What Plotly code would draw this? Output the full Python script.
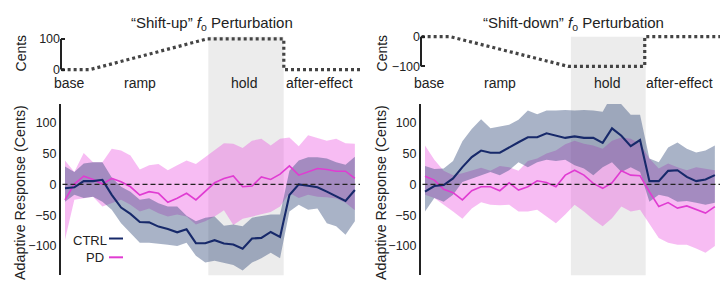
import plotly.graph_objects as go

# ---------------- data ----------------
trials = list(range(1, 33))

# Shift-up condition
ctrl_up_mean = [-6.4, -4.8, 5.3, 5.3, 7.4, -17, -37.6, -48, -61, -61.7, -68.6, -72.4, -77.8, -73, -95.5, -95.5,
                -90.6, -96, -97.6, -104.5, -88, -86.9, -77.3, -85.3, -17.2, 0, -2.1, -4.8, -11.8, -19.9, -26.8, -9.2]
ctrl_up_upper = [29, 20, 34, 36, 36, 11, -4, -12, -25, -22.5, -30.5, -36, -36, -51, -60, -54,
                 -52, -67, -65, -68, -54, -52, -49, -49, 22, 39, 44, 44, 42, 36, 32, 45]
ctrl_up_lower = [-28, -17, -22, -20, -28, -41, -63, -79, -95, -95, -96, -98, -100, -95, -116, -127,
                 -124, -127, -131, -140, -127, -120, -111, -120, -44, -33, -41, -39, -63, -68, -82, -60]
pd_up_mean = [-25.2, 0.5, 13.3, 8, 0.5, 9.6, 4.2, -3.9, -17.2, -11.8, -14.5, -29, -22.5, -14.5, -25.2, -11.8,
              2.6, 9.6, 13.8, -3.9, -2.7, 12.2, 8, 16.6, 30, 15, 20.3, 25.7, 24.1, 21.4, 21.4, 9.6]
pd_up_upper = [39, 20, 51, 36, 36, 58, 55, 47, 24, 31, 33, 23, 31, 39, 33, 44,
               55, 67, 66, 59, 71, 74, 63, 74, 76, 62, 80, 75, 71, 74, 67, 66]
pd_up_lower = [-90, -25, -22, -20, -36, -30, -25, -33, -44, -39, -47, -52, -49, -52, -65, -60,
               -52, -42, -66, -56, -52, -49, -45, -36, -14, -22, -17, -20, -21, -23, -30, -42]

# Shift-down condition
ctrl_down_mean = [-11.8, -2.7, -1, 9.6, 28, 44.4, 55, 51.4, 51.4, 60.5, 68.5, 76.5, 76.5, 83, 79, 75.5,
                  78, 75.5, 75.5, 67.5, 91, 79, 62, 72, 5.3, 5.3, 22, 23, 12.2, 5.3, 8, 15]
ctrl_down_upper = [30, 25, 26, 38, 70, 90, 106, 91, 94, 97, 105, 120, 114, 120, 120, 121,
                   120, 121, 120, 118, 145, 130, 113, 113, 42, 36, 60, 68, 58, 52, 55, 63]
ctrl_down_lower = [-44, -22, -28, -17, 4, 10, 15, 20, 15, 23, 36, 28, 36, 40, 38, 40,
                   31, 26, 15, 28, 36, 20, 28, 20, -28, -17, -20, -28, -27, -30, -33, -30]
pd_down_mean = [13.3, 7, -8, -13.5, -25.2, -10.3, -3.9, -3.9, -10.3, 2.6, -9.2, -3.9, 5.8, 3.2, -3.9, 15,
                23, 15, 1.6, -6.4, 2.6, 22, 15, 14, -12, -36, -29.6, -38.6, -35, -41.3, -46.6, -36]
pd_down_upper = [63, 40, 22, 15, 18, 22, 27, 22, 30, 28, 22, 38, 42, 50, 55, 65,
                 71, 66, 63, 58, 71, 76, 74, 66, 42, 26, 34, 28, 23, 28, 26, 23]
pd_down_lower = [-17, -22, -33, -44, -56, -39, -29, -33, -34, -33, -44, -44, -41, -52, -63, -49,
                 -33, -44, -57, -68, -55, -36, -44, -41, -63, -87, -95, -98, -98, -104, -111, -100]

# Perturbation profiles (cents)
pert_up_x = [0.64, 3.67, 16.2, 24.4, 24.4, 32.55]
pert_up_y = [0, 0, 100, 100, 0, 0]
pert_down_x = [0.64, 3.67, 16.3, 24.5, 24.5, 32.6]
pert_down_y = [0, 0, -100, -100, 0, 0]

phase_labels = ["base", "ramp", "hold", "after-effect"]
bottom_ticks = [-100, -50, 0, 50, 100]
up_ticks = [0, 100]
down_ticks = [-100, 0]

# ---------------- styling ----------------
W, H = 721, 288
FONT = "Liberation Sans, Arial, sans-serif"
CTRL_LINE = "#17296a"
PD_LINE = "#e03cd2"
CTRL_FILL = "rgba(40,65,115,0.40)"
PD_FILL = "rgba(232,70,222,0.36)"
PERT_COLOR = "#444444"
HOLD_COLOR = "#ececec"


def px(x):
    return x / W


def py(y):
    return 1 - y / H


XR = [0.572, 32.55]
label_x = [1.53, 9.02, 20.1, 28.27]
label_x_r = [1.53, 9.02, 20.45, 28.27]

fig = go.Figure()


def add_panel(xa, ya, mean_c, up_c, lo_c, mean_p, up_p, lo_p):
    fig.add_trace(go.Scatter(x=trials + trials[::-1], y=up_p + lo_p[::-1], fill="toself",
                             fillcolor=PD_FILL, line=dict(width=0), mode="lines",
                             hoverinfo="skip", showlegend=False, xaxis=xa, yaxis=ya))
    fig.add_trace(go.Scatter(x=trials + trials[::-1], y=up_c + lo_c[::-1], fill="toself",
                             fillcolor=CTRL_FILL, line=dict(width=0), mode="lines",
                             hoverinfo="skip", showlegend=False, xaxis=xa, yaxis=ya))
    fig.add_trace(go.Scatter(x=trials, y=mean_p, mode="lines", line=dict(color=PD_LINE, width=1.6),
                             name="PD", showlegend=False, xaxis=xa, yaxis=ya))
    fig.add_trace(go.Scatter(x=trials, y=mean_c, mode="lines", line=dict(color=CTRL_LINE, width=2.1),
                             name="CTRL", showlegend=False, xaxis=xa, yaxis=ya))


add_panel("x", "y", ctrl_up_mean, ctrl_up_upper, ctrl_up_lower, pd_up_mean, pd_up_upper, pd_up_lower)
add_panel("x3", "y3", ctrl_down_mean, ctrl_down_upper, ctrl_down_lower, pd_down_mean, pd_down_upper, pd_down_lower)

fig.add_trace(go.Scatter(x=pert_up_x, y=pert_up_y, mode="lines",
                         line=dict(color=PERT_COLOR, width=3.2, dash="3px,3px"),
                         showlegend=False, xaxis="x2", yaxis="y2"))
fig.add_trace(go.Scatter(x=pert_down_x, y=pert_down_y, mode="lines",
                         line=dict(color=PERT_COLOR, width=3.2, dash="3px,3px"),
                         showlegend=False, xaxis="x4", yaxis="y4"))

bot_dom = [py(276), py(103)]
top_dom = [py(75), py(30)]
left_dom = [px(61), px(360)]
right_dom = [px(421), px(720)]

xcommon = dict(visible=False, range=XR, fixedrange=True)
ybot = dict(domain=bot_dom, range=[-147.4, 130.7], tickvals=bottom_ticks, ticks="",
            showline=True, linewidth=2, linecolor="#222", showgrid=False, zeroline=False,
            tickfont=dict(family=FONT, size=12.5, color="#222"))
ytop = dict(domain=top_dom, ticks="inside", ticklen=4, tickwidth=1.5, tickcolor="#222",
            showline=False, showgrid=False, zeroline=False,
            tickfont=dict(family=FONT, size=12.5, color="#222"))

fig.update_layout(
    width=W, height=H, margin=dict(l=0, r=0, t=0, b=0),
    paper_bgcolor="white", plot_bgcolor="rgba(0,0,0,0)",
    showlegend=False,
    xaxis=dict(domain=left_dom, anchor="y", **xcommon),
    xaxis2=dict(domain=left_dom, anchor="y2", **xcommon),
    xaxis3=dict(domain=right_dom, anchor="y3", **xcommon),
    xaxis4=dict(domain=right_dom, anchor="y4", **xcommon),
    yaxis=dict(anchor="x", **ybot),
    yaxis3=dict(anchor="x3", **ybot),
    yaxis2=dict(anchor="x2", range=[-21.6, 123.5], tickvals=up_ticks, **ytop),
    yaxis4=dict(anchor="x4", range=[-133.3, 16.7], tickvals=down_ticks, **ytop),
)

shapes = []
# hold shading
shapes.append(dict(type="rect", xref="x", yref="paper", x0=16.33, x1=24.39, y0=py(276), y1=py(35),
                   fillcolor=HOLD_COLOR, line=dict(width=0), layer="below"))
shapes.append(dict(type="rect", xref="x3", yref="paper", x0=16.6, x1=24.6, y0=py(276), y1=py(35),
                   fillcolor=HOLD_COLOR, line=dict(width=0), layer="below"))
# zero dashed lines
for xr, yr in (("x domain", "y"), ("x3 domain", "y3")):
    shapes.append(dict(type="line", xref=xr, yref=yr, x0=0.005, x1=1, y0=0, y1=0,
                       line=dict(color="#222", width=1.4, dash="5px,3px"), layer="above"))
# top axis lines
shapes.append(dict(type="line", xref="x2 domain", yref="y2", x0=0, x1=0, y0=0, y1=100,
                   line=dict(color="#222", width=2)))
shapes.append(dict(type="line", xref="x4 domain", yref="y4", x0=0, x1=0, y0=-100, y1=0,
                   line=dict(color="#222", width=2)))
# legend lines
shapes.append(dict(type="line", xref="paper", yref="paper", x0=px(109), x1=px(123), y0=py(239), y1=py(239),
                   line=dict(color=CTRL_LINE, width=2)))
shapes.append(dict(type="line", xref="paper", yref="paper", x0=px(109), x1=px(123), y0=py(258), y1=py(258),
                   line=dict(color=PD_LINE, width=2)))
fig.update_layout(shapes=shapes)

ann = []
tf = dict(family=FONT, size=15, color="#222")
ann.append(dict(text="“Shift-up” <i>f</i><sub>o</sub> Perturbation", x=px(212), y=py(22), xref="paper",
                yref="paper", showarrow=False, font=tf, xanchor="center", yanchor="middle"))
ann.append(dict(text="“Shift-down” <i>f</i><sub>o</sub> Perturbation", x=px(573), y=py(22), xref="paper",
                yref="paper", showarrow=False, font=tf, xanchor="center", yanchor="middle"))
lf = dict(family=FONT, size=14, color="#222")
for lab, lx, rx in zip(phase_labels, label_x, label_x_r):
    ann.append(dict(text=lab, x=lx, y=py(82), xref="x2", yref="paper", showarrow=False, font=lf,
                    xanchor="center", yanchor="middle"))
    ann.append(dict(text=lab, x=rx, y=py(82), xref="x4", yref="paper", showarrow=False, font=lf,
                    xanchor="center", yanchor="middle"))
for xx in (21, 382):
    ann.append(dict(text="Cents", x=px(xx), y=py(52), xref="paper", yref="paper", showarrow=False,
                    textangle=-90, font=dict(family=FONT, size=14, color="#222"),
                    xanchor="center", yanchor="middle"))
    ann.append(dict(text="Adaptive Response (Cents)", x=px(xx - 1), y=py(193), xref="paper", yref="paper",
                    showarrow=False, textangle=-90, font=dict(family=FONT, size=14.3, color="#222"),
                    xanchor="center", yanchor="middle"))
legf = dict(family=FONT, size=13, color="#222")
ann.append(dict(text="CTRL", x=px(109), y=py(241), xref="paper", yref="paper", showarrow=False, font=legf,
                xanchor="right", yanchor="middle"))
ann.append(dict(text="PD", x=px(106), y=py(258), xref="paper", yref="paper", showarrow=False, font=legf,
                xanchor="right", yanchor="middle"))
fig.update_layout(annotations=ann)

fig.write_html(
    "out.html",
    config={"displayModeBar": False},
    post_script="document.body.style.margin='0';document.body.style.padding='0';"
                "document.body.style.overflow='hidden';",
)
